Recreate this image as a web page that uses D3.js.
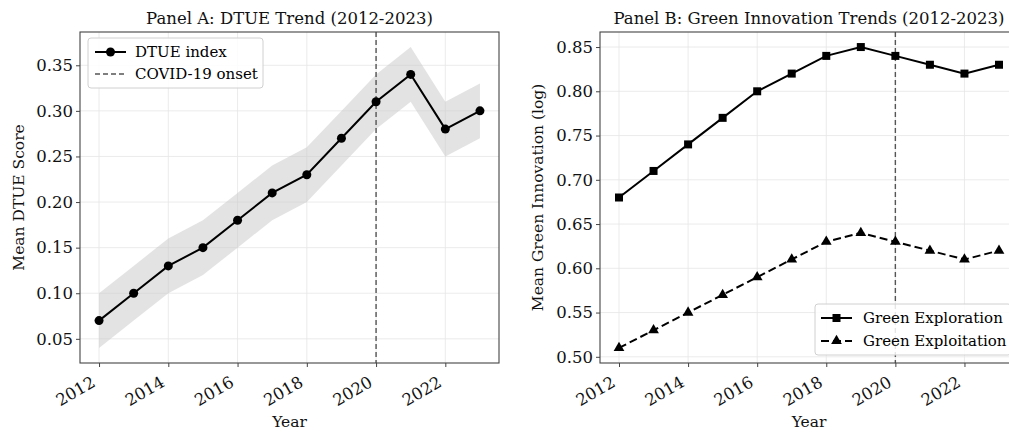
<!DOCTYPE html>
<html lang="en">
  <head>
    <meta charset="UTF-8" />
    <script src="https://cdn.jsdelivr.net/npm/d3@7"></script>
    <title>DTUE and Green Innovation</title>
    <style>
      body {
        margin: 0;
        background: white;
      }
      svg {
        display: block;
        font-family: "DejaVu Serif", serif;
      }
      .grid line {
        stroke: #e6e6e6;
        stroke-width: 0.8px;
      }
    </style>
  </head>

  <body>
    <script>
      // ---------------- data ----------------
      const years = [2012, 2013, 2014, 2015, 2016, 2017, 2018, 2019, 2020, 2021, 2022, 2023];
      const dtue = [0.07, 0.10, 0.13, 0.15, 0.18, 0.21, 0.23, 0.27, 0.31, 0.34, 0.28, 0.30];
      const dtueLow = [0.04, 0.07, 0.10, 0.12, 0.15, 0.18, 0.20, 0.24, 0.28, 0.31, 0.25, 0.27];
      const dtueHigh = [0.10, 0.13, 0.16, 0.18, 0.21, 0.24, 0.26, 0.30, 0.34, 0.37, 0.31, 0.33];
      const exploration = [0.68, 0.71, 0.74, 0.77, 0.80, 0.82, 0.84, 0.85, 0.84, 0.83, 0.82, 0.83];
      const exploitation = [0.51, 0.53, 0.55, 0.57, 0.59, 0.61, 0.63, 0.64, 0.63, 0.62, 0.61, 0.62];
      const xTicks = [2012, 2014, 2016, 2018, 2020, 2022];
      const yTicksA = [0.05, 0.10, 0.15, 0.20, 0.25, 0.30, 0.35];
      const yTicksB = [0.50, 0.55, 0.60, 0.65, 0.70, 0.75, 0.80, 0.85];
      const covidYear = 2020;

      const width = 1009, height = 432;
      const svg = d3.select("body").append("svg")
        .attr("width", width).attr("height", height);

      // ---------------- panel helper ----------------
      function panel(opts) {
        const g = svg.append("g");
        const x = d3.scaleLinear().domain([2011.45, 2023.55]).range([opts.left, opts.right]);
        const y = d3.scaleLinear().domain(opts.ydomain).range([opts.bottom, opts.top]);

        // clip to plot area
        const clipId = "clip" + opts.id;
        svg.append("clipPath").attr("id", clipId)
          .append("rect")
          .attr("x", opts.left).attr("y", opts.top)
          .attr("width", opts.right - opts.left).attr("height", opts.bottom - opts.top);

        // grid
        const grid = g.append("g").attr("class", "grid");
        grid.selectAll(".gx").data(xTicks).enter().append("line")
          .attr("x1", d => x(d)).attr("x2", d => x(d))
          .attr("y1", opts.top).attr("y2", opts.bottom);
        grid.selectAll(".gy").data(opts.yticks).enter().append("line")
          .attr("x1", opts.left).attr("x2", opts.right)
          .attr("y1", d => y(d)).attr("y2", d => y(d));

        const plot = g.append("g").attr("clip-path", `url(#${clipId})`);

        // axes
        const xAxis = g.append("g")
          .attr("transform", `translate(0,${opts.bottom})`)
          .call(d3.axisBottom(x).tickValues(xTicks).tickFormat(d3.format("d")).tickSize(4));
        xAxis.selectAll("text")
          .style("font-size", "16.5px")
          .attr("text-anchor", "end")
          .attr("dy", null)
          .attr("transform", d => `translate(-9,12) rotate(-30)`)
          .attr("y", 0).attr("x", 0)
          .attr("dominant-baseline", "hanging");

        const yAxis = g.append("g")
          .attr("transform", `translate(${opts.left},0)`)
          .call(d3.axisLeft(y).tickValues(opts.yticks).tickFormat(d3.format(".2f")).tickSize(4));
        yAxis.selectAll("text").style("font-size", "16.5px").attr("x", -7);

        [xAxis, yAxis].forEach(a => {
          a.select(".domain").remove();
          a.selectAll("line").attr("stroke", "#444");
          a.selectAll("text").attr("fill", "#111").style("font-family", "DejaVu Serif");
        });

        // frame
        g.append("rect")
          .attr("x", opts.left).attr("y", opts.top)
          .attr("width", opts.right - opts.left).attr("height", opts.bottom - opts.top)
          .attr("fill", "none").attr("stroke", "#444").attr("stroke-width", 1.1);

        // title and labels
        g.append("text")
          .attr("x", (opts.left + opts.right) / 2).attr("y", 24)
          .attr("text-anchor", "middle").style("font-size", "16.5px").attr("fill", "#111")
          .text(opts.title);
        g.append("text")
          .attr("x", (opts.left + opts.right) / 2).attr("y", 427)
          .attr("text-anchor", "middle").style("font-size", "15.5px").attr("fill", "#111")
          .text("Year");
        g.append("text")
          .attr("transform", `translate(${opts.ylabelX},${(opts.top + opts.bottom) / 2}) rotate(-90)`)
          .attr("text-anchor", "middle").style("font-size", "15.5px").attr("fill", "#111")
          .text(opts.ylabel);

        // covid line
        plot.append("line")
          .attr("x1", x(covidYear)).attr("x2", x(covidYear))
          .attr("y1", opts.top).attr("y2", opts.bottom)
          .attr("stroke", "#555").attr("stroke-width", 1.4)
          .attr("stroke-dasharray", "5,3");

        return { g, plot, x, y };
      }

      // ---------------- Panel A ----------------
      const A = panel({
        id: "A", left: 80, right: 499, top: 32, bottom: 363,
        ydomain: [0.0235, 0.3865], yticks: yTicksA,
        title: "Panel A: DTUE Trend (2012-2023)", ylabel: "Mean DTUE Score", ylabelX: 24
      });

      const band = d3.area()
        .x((d, i) => A.x(years[i]))
        .y0((d, i) => A.y(dtueLow[i]))
        .y1((d, i) => A.y(dtueHigh[i]));
      A.plot.insert("path", "line")
        .datum(years)
        .attr("d", band)
        .attr("fill", "#c8c8c8").attr("fill-opacity", 0.5);

      const lineA = d3.line().x((d, i) => A.x(years[i])).y(d => A.y(d));
      A.plot.append("path").datum(dtue).attr("d", lineA)
        .attr("fill", "none").attr("stroke", "black").attr("stroke-width", 2);
      A.plot.selectAll(".dot").data(dtue).enter().append("circle")
        .attr("cx", (d, i) => A.x(years[i])).attr("cy", d => A.y(d))
        .attr("r", 4.5).attr("fill", "black");

      // legend A
      const legA = A.g.append("g").attr("transform", "translate(88,38)");
      legA.append("rect").attr("width", 175).attr("height", 50).attr("rx", 3)
        .attr("fill", "white").attr("fill-opacity", 0.85)
        .attr("stroke", "#d0d0d0");
      legA.append("line").attr("x1", 7).attr("x2", 38).attr("y1", 14).attr("y2", 14)
        .attr("stroke", "black").attr("stroke-width", 2);
      legA.append("circle").attr("cx", 22.5).attr("cy", 14).attr("r", 4.5).attr("fill", "black");
      legA.append("line").attr("x1", 7).attr("x2", 38).attr("y1", 36).attr("y2", 36)
        .attr("stroke", "#555").attr("stroke-width", 1.4).attr("stroke-dasharray", "5,3");
      legA.append("text").attr("x", 47).attr("y", 19).style("font-size", "15px").text("DTUE index");
      legA.append("text").attr("x", 47).attr("y", 41).style("font-size", "15px").text("COVID-19 onset");

      // ---------------- Panel B ----------------
      const B = panel({
        id: "B", left: 600, right: 1018, top: 32, bottom: 363,
        ydomain: [0.493, 0.867], yticks: yTicksB,
        title: "Panel B: Green Innovation Trends (2012-2023)",
        ylabel: "Mean Green Innovation (log)", ylabelX: 543
      });

      const lineB = d3.line().x((d, i) => B.x(years[i])).y(d => B.y(d));
      B.plot.append("path").datum(exploration).attr("d", lineB)
        .attr("fill", "none").attr("stroke", "black").attr("stroke-width", 2);
      B.plot.selectAll(".sq").data(exploration).enter().append("rect")
        .attr("x", (d, i) => B.x(years[i]) - 4).attr("y", d => B.y(d) - 4)
        .attr("width", 8).attr("height", 8).attr("fill", "black");

      B.plot.append("path").datum(exploitation).attr("d", lineB)
        .attr("fill", "none").attr("stroke", "black").attr("stroke-width", 2)
        .attr("stroke-dasharray", "8,4");
      const tri = d3.symbol().type(d3.symbolTriangle).size(50);
      B.plot.selectAll(".tri").data(exploitation).enter().append("path")
        .attr("d", tri)
        .attr("transform", (d, i) => `translate(${B.x(years[i])},${B.y(d)})`)
        .attr("fill", "black");

      // legend B
      const legB = B.g.append("g").attr("transform", "translate(815,304)");
      legB.append("rect").attr("width", 196).attr("height", 51).attr("rx", 3)
        .attr("fill", "white").attr("fill-opacity", 0.85)
        .attr("stroke", "#d0d0d0");
      legB.append("line").attr("x1", 6).attr("x2", 37).attr("y1", 14).attr("y2", 14)
        .attr("stroke", "black").attr("stroke-width", 2);
      legB.append("rect").attr("x", 17.5).attr("y", 10).attr("width", 8).attr("height", 8).attr("fill", "black");
      legB.append("line").attr("x1", 6).attr("x2", 37).attr("y1", 37).attr("y2", 37)
        .attr("stroke", "black").attr("stroke-width", 2).attr("stroke-dasharray", "8,4");
      legB.append("path").attr("d", tri).attr("transform", "translate(21.5,37)").attr("fill", "black");
      legB.append("text").attr("x", 48).attr("y", 19).style("font-size", "15px").text("Green Exploration");
      legB.append("text").attr("x", 48).attr("y", 42).style("font-size", "15px").text("Green Exploitation");
    </script>
  </body>
</html>
